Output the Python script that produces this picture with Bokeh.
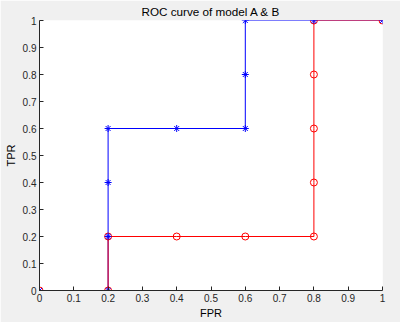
from bokeh.plotting import figure
from bokeh.models import FixedTicker, Range1d
from bokeh.embed import file_html
from bokeh.resources import INLINE

# data
fpr_a = [0, 0.2, 0.2, 0.2, 0.2, 0.4, 0.6, 0.6, 0.6, 0.8, 1.0]
tpr_a = [0, 0, 0.2, 0.4, 0.6, 0.6, 0.6, 0.8, 1.0, 1.0, 1.0]
fpr_b = [0, 0.2, 0.2, 0.4, 0.6, 0.8, 0.8, 0.8, 0.8, 0.8, 1.0]
tpr_b = [0, 0, 0.2, 0.2, 0.2, 0.2, 0.4, 0.6, 0.8, 1.0, 1.0]
tick_vals = [0, 0.1, 0.2, 0.3, 0.4, 0.5, 0.6, 0.7, 0.8, 0.9, 1.0]
tick_labels = ["0", "0.1", "0.2", "0.3", "0.4", "0.5", "0.6", "0.7", "0.8", "0.9", "1"]
title_text = "ROC curve of model A & B"
x_label = "FPR"
y_label = "TPR"

FONT = "Liberation Sans"
DARK = "#262626"

p = figure(width=400, height=322, output_backend="svg", toolbar_location=None,
           x_range=Range1d(0, 1), y_range=Range1d(0, 1),
           min_border_left=39, min_border_right=18, min_border_top=20, min_border_bottom=32,
           background_fill_color="white", border_fill_color="#f0f0f0")
p.outline_line_color = None
p.grid.visible = False

p.title.text = title_text
p.title.align = "center"
p.title.text_font = FONT
p.title.text_font_size = "11.7px"
p.title.text_font_style = "normal"
p.title.text_color = "black"
p.title.offset = 0
p.title.standoff = 5

for ax in (p.xaxis[0], p.yaxis[0]):
    ax.ticker = FixedTicker(ticks=tick_vals)
    ax.major_label_overrides = {v: s for v, s in zip(tick_vals, tick_labels)}
    ax.major_tick_in = 4
    ax.major_tick_out = 0
    ax.minor_tick_in = 0
    ax.minor_tick_out = 0
    ax.axis_line_color = DARK
    ax.major_tick_line_color = DARK
    ax.major_label_text_font = FONT
    ax.major_label_text_font_size = "10px"
    ax.major_label_text_color = DARK
    ax.axis_label_text_font = FONT
    ax.axis_label_text_font_size = "11px"
    ax.axis_label_text_font_style = "normal"
    ax.axis_label_text_color = "black"
    ax.major_label_standoff = 3

p.xaxis.axis_label = x_label
p.yaxis.axis_label = y_label
p.xaxis.axis_label_standoff = 2
p.yaxis.axis_label_standoff = 3

p.line(fpr_a, tpr_a, line_color="blue", line_width=1)
p.line(fpr_b, tpr_b, line_color="red", line_width=1)
p.scatter(fpr_b, tpr_b, marker="circle", size=7, fill_color=None, line_color="red", line_width=1)
p.scatter(fpr_a, tpr_a, marker="asterisk", size=7, line_color="blue", line_width=1)

open("out.html", "w").write(file_html(p, INLINE))
